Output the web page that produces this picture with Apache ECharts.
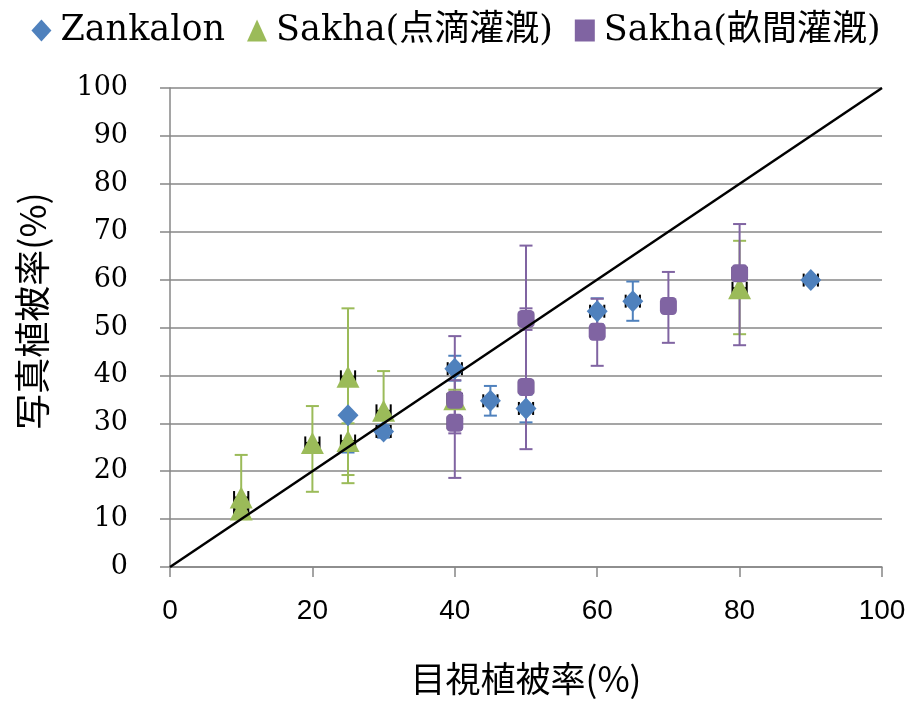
<!DOCTYPE html>
<html>
<head>
<meta charset="utf-8">
<script src="https://cdn.jsdelivr.net/npm/echarts@6/dist/echarts.min.js"></script>
<style>
html,body{margin:0;padding:0;background:#fff;}
#chart{width:912px;height:702px;}
</style>
</head>
<body>
<div id="chart"></div>
<script>
// ---- data ----
var seriesNames = ['Zankalon', 'Sakha(点滴灌漑)', 'Sakha(畝間灌漑)'];
var xTicks = [0, 20, 40, 60, 80, 100];
var yTicks = [0, 10, 20, 30, 40, 50, 60, 70, 80, 90, 100];

var zankalonX    = [25, 30, 40, 45, 50, 60, 65, 90];
var zankalonY    = [31.7, 28.3, 41.4, 34.7, 33.1, 53.4, 55.5, 59.9];
var zankalonLow  = [23.9, 27.0, 38.9, 31.6, 30.2, 50.7, 51.4, 59.9];
var zankalonHigh = [39.5, 29.6, 44.1, 37.8, 36.0, 56.1, 59.6, 59.9];
var zankalonXErr = [0, 1, 1, 1, 1, 1, 1, 1];

var dripX    = [10, 10, 20, 25, 25, 30, 40, 80];
var dripY    = [14.5, 12.0, 25.9, 39.7, 26.3, 32.6, 35.0, 58.2];
var dripLow  = [10.0, 11.0, 15.7, 19.2, 17.5, 28.0, 33.0, 48.6];
var dripHigh = [23.4, 13.0, 33.6, 54.0, 30.0, 40.9, 37.0, 68.1];
var dripXErr = [1, 1, 1, 1, 1, 1, 1, 1];

var furrowX    = [40, 40, 50, 50, 60, 70, 80];
var furrowY    = [34.9, 30.1, 51.8, 37.6, 49.1, 54.5, 61.3];
var furrowLow  = [27.9, 18.6, 49.5, 24.6, 42.0, 46.8, 46.3];
var furrowHigh = [39.0, 48.2, 54.0, 67.1, 56.0, 61.6, 71.6];
var furrowXErr = [1, 1, 1, 1, 0, 0, 1];

var refLineX = [0, 100];
var refLineY = [0, 100];

// ---- build ----
var colors = ['#4f81bd', '#9bbb59', '#8064a2'];
function pts(xs, ys) { return xs.map(function (x, i) { return [x, ys[i]]; }); }
function errPts(xs, ys, lo, hi, xe) {
  return xs.map(function (x, i) { return [x, ys[i], lo[i], hi[i], xe[i]]; });
}
function errSeries(data, color) {
  return {
    type: 'custom',
    z: 1,
    silent: true,
    data: data,
    renderItem: function (params, api) {
      var x = api.value(0), y = api.value(1), lo = api.value(2), hi = api.value(3), xe = api.value(4);
      var pLo = api.coord([x, lo]);
      var pHi = api.coord([x, hi]);
      var cw = 6.5;
      var children = [];
      if (hi > lo) {
        children.push({ type: 'line', shape: { x1: pLo[0], y1: pLo[1], x2: pHi[0], y2: pHi[1] }, style: { stroke: color, lineWidth: 2 } });
        children.push({ type: 'line', shape: { x1: pLo[0] - cw, y1: pLo[1], x2: pLo[0] + cw, y2: pLo[1] }, style: { stroke: color, lineWidth: 2 } });
        children.push({ type: 'line', shape: { x1: pHi[0] - cw, y1: pHi[1], x2: pHi[0] + cw, y2: pHi[1] }, style: { stroke: color, lineWidth: 2 } });
      }
      if (xe > 0) {
        var pL = api.coord([x - xe, y]);
        var pR = api.coord([x + xe, y]);
        var ch = 6.5;
        children.push({ type: 'line', shape: { x1: pL[0], y1: pL[1], x2: pR[0], y2: pR[1] }, style: { stroke: '#000', lineWidth: 2 } });
        children.push({ type: 'line', shape: { x1: pL[0], y1: pL[1] - ch, x2: pL[0], y2: pL[1] + ch }, style: { stroke: '#000', lineWidth: 2 } });
        children.push({ type: 'line', shape: { x1: pR[0], y1: pR[1] - ch, x2: pR[0], y2: pR[1] + ch }, style: { stroke: '#000', lineWidth: 2 } });
      }
      return { type: 'group', children: children };
    }
  };
}

var chart = echarts.init(document.getElementById('chart'), null, { renderer: 'canvas' });
var option = {
  animation: false,
  backgroundColor: '#fff',
  color: colors,
  grid: { left: 170, right: 30, top: 88, bottom: 135 },
  legend: {
    top: 8,
    left: 'center',
    itemWidth: 20,
    itemHeight: 22,
    itemGap: 22,
    textStyle: { fontFamily: 'DejaVu Serif, Noto Sans CJK JP', fontSize: 35, color: '#000', padding: [0, 0, 0, 4] },
    data: [
      { name: seriesNames[0], icon: 'diamond' },
      { name: seriesNames[1], icon: 'triangle' },
      { name: seriesNames[2], icon: 'rect' }
    ]
  },
  xAxis: {
    type: 'value',
    min: xTicks[0],
    max: xTicks[xTicks.length - 1],
    interval: 20,
    name: '目視植被率(%)',
    nameLocation: 'middle',
    nameGap: 94,
    nameTextStyle: { fontFamily: 'Noto Sans CJK JP', fontSize: 35, color: '#000' },
    axisLine: { show: true, onZero: false, lineStyle: { color: '#878787', width: 1.5 } },
    axisTick: { show: true, inside: false, length: 10, lineStyle: { color: '#878787', width: 1.5 } },
    axisLabel: { margin: 30, fontFamily: 'Liberation Sans', fontSize: 28, color: '#000' },
    splitLine: { show: false }
  },
  yAxis: {
    type: 'value',
    min: yTicks[0],
    max: yTicks[yTicks.length - 1],
    interval: 10,
    axisLine: { show: true, lineStyle: { color: '#878787', width: 1.5 } },
    axisTick: { show: true, inside: false, length: 10, lineStyle: { color: '#878787', width: 1.5 } },
    axisLabel: { margin: 42, fontFamily: 'DejaVu Serif', fontSize: 27, color: '#000' },
    splitLine: { show: true, lineStyle: { color: '#878787', width: 1.5 } }
  },
  graphic: [{
    type: 'text',
    x: 32, y: 311,
    rotation: Math.PI / 2,
    style: {
      text: '写真植被率(%)',
      font: '36px "Noto Sans CJK JP"',
      fill: '#000',
      textAlign: 'center',
      textVerticalAlign: 'middle'
    }
  }],
  series: [
    errSeries(errPts(zankalonX, zankalonY, zankalonLow, zankalonHigh, zankalonXErr), colors[0]),
    errSeries(errPts(dripX, dripY, dripLow, dripHigh, dripXErr), colors[1]),
    errSeries(errPts(furrowX, furrowY, furrowLow, furrowHigh, furrowXErr), colors[2]),
    {
      name: seriesNames[0], type: 'scatter', z: 3,
      symbol: 'diamond', symbolSize: [21, 22],
      itemStyle: { color: colors[0], opacity: 1 },
      data: pts(zankalonX, zankalonY)
    },
    {
      name: seriesNames[1], type: 'scatter', z: 3,
      symbol: 'triangle', symbolSize: [23, 22],
      itemStyle: { color: colors[1], opacity: 1 },
      data: pts(dripX, dripY)
    },
    {
      name: seriesNames[2], type: 'scatter', z: 3,
      symbol: 'roundRect', symbolSize: [17, 18],
      itemStyle: { color: colors[2], opacity: 1 },
      data: pts(furrowX, furrowY)
    },
    {
      type: 'line', z: 5, silent: true,
      symbol: 'none',
      lineStyle: { color: '#000', width: 2.5 },
      data: pts(refLineX, refLineY)
    }
  ]
};
chart.setOption(option);
</script>
</body>
</html>
